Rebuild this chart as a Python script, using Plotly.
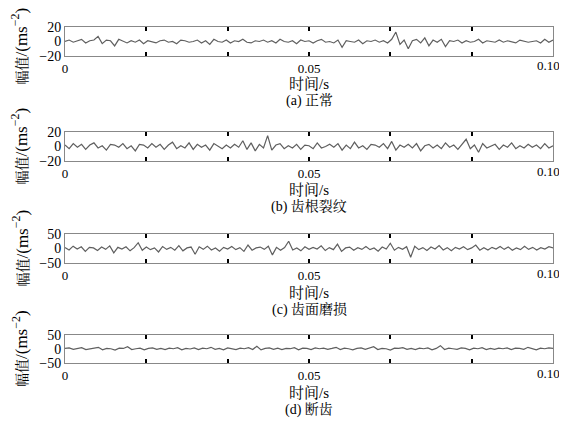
import numpy as np
import plotly.graph_objects as go

WIN_W, WIN_H = 567, 422
OFF = 8  # page body margin of the html page
W, H = WIN_W - OFF, WIN_H - OFF

sig_a = [0,2,-1,1,3,-2,1,2,7,-3,2,1,-6,3,0,-2,1,-1,2,-3,1,0,-2,1,2,-1,0,-3,2,1,-1,0,2,-2,1,-4,3,0,-1,2,-2,1,0,3,-1,-2,1,0,2,-1,1,-2,3,0,-1,1,-3,2,0,1,-2,1,3,-1,0,-2,2,-8,1,0,-1,2,-3,1,0,2,-1,1,-2,3,13,-4,2,-10,1,3,-2,5,-6,2,-1,3,-7,1,0,2,-2,1,-1,0,3,-2,1,0,-1,2,-1,1,0,-2,2,1,-1,0,1,-2,3,-1,2]
sig_b = [2,-3,4,-1,3,-4,2,5,-2,1,-5,3,2,-1,4,-3,1,-6,3,2,-2,4,-1,3,-4,2,6,-3,1,-2,5,-4,3,-1,2,-5,4,1,-3,2,-2,3,-1,8,-4,5,-6,3,-2,15,-5,2,4,-3,1,-2,3,-4,2,1,-3,5,-2,0,3,-1,4,-5,2,-3,6,-2,1,-4,3,2,-1,4,-3,7,-5,2,-1,3,-2,4,-6,1,3,-2,2,-3,5,-1,2,-4,3,10,-3,2,-8,4,-2,1,3,-4,2,-1,5,-3,1,-2,3,-1,2,-3,4,-2,1]
sig_c = [3,-5,8,-2,6,-10,4,2,-7,5,-3,9,-15,4,-2,6,-8,3,20,-6,5,-4,2,-12,7,-3,4,-6,10,-8,2,5,-20,6,-3,8,-5,2,-9,4,-2,7,-4,3,-10,12,-6,2,5,-3,8,-22,4,-6,3,25,-5,2,-8,6,-3,4,-2,9,-7,3,-4,15,-10,2,5,-6,3,-3,7,-4,2,-9,5,-2,18,-6,4,-3,6,-30,8,-4,3,-7,5,-2,10,-5,3,-8,4,-2,6,-4,2,12,-6,3,-5,4,-2,7,-3,5,-6,2,-4,8,-3,4,-5,3,-2,6,2]
sig_d = [2,4,-1,3,5,-2,1,3,6,-3,2,1,-4,3,2,8,-2,1,3,-3,2,4,-1,2,-2,3,1,5,-3,2,0,4,-2,3,1,6,-1,2,-3,4,2,-2,3,1,5,-2,10,-3,2,4,-1,3,-2,2,1,5,-3,3,2,-2,4,1,3,-1,2,6,-2,3,1,-3,2,4,-1,3,8,-2,2,1,-4,3,2,5,-1,2,-2,3,1,4,-3,2,12,-2,3,1,-1,4,2,-3,3,1,5,-2,2,-1,3,1,4,-2,3,2,-1,6,2,-3,3,1,4,2]

signals = [sig_a, sig_b, sig_c, sig_d]
y_limits = [20, 20, 50, 50]
captions = ["(a) 正常", "(b) 齿根裂纹", "(c) 齿面磨损", "(d) 断齿"]
x_tickvals = [0, 1/60, 2/60, 0.05, 4/60, 5/60, 0.1]
x_ticktext = ["0", "", "", "0.05", "", "", ""]
last_tick_label = "0.10"

# pixel boxes (top, bottom) of each panel, in window pixels
boxes = [(27, 56), (132, 161), (234, 263), (335, 363)]
xlabel_y = [84, 190, 293, 393]
caption_y = [100, 206, 309, 409]
title_shift = [5, 0, 0, 0]
x0, x1 = 65, 553

FONT = "Liberation Serif, Times New Roman, Noto Serif CJK SC, Noto Sans CJK SC, serif"


def px(x):
    return (x - OFF) / W


def py(y):
    return 1 - (y - OFF) / H


fig = go.Figure()
annotations = []
for i, s in enumerate(signals):
    t = np.linspace(0, 0.1, len(s))
    xa = "x" if i == 0 else f"x{i+1}"
    ya = "y" if i == 0 else f"y{i+1}"
    fig.add_trace(go.Scatter(x=t, y=s, mode="lines", xaxis=xa, yaxis=ya,
                             line=dict(color="#5f5f5f", width=1.2), showlegend=False))
    top, bot = boxes[i]
    lim = y_limits[i]
    xkey = "xaxis" if i == 0 else f"xaxis{i+1}"
    ykey = "yaxis" if i == 0 else f"yaxis{i+1}"
    fig.layout[xkey] = dict(domain=[px(x0), px(x1)], anchor=ya, range=[0, 0.1],
                            tickvals=x_tickvals, ticktext=x_ticktext, automargin=False,
                            ticks="inside", ticklen=4, tickwidth=2, tickcolor="black",
                            showline=True, linecolor="#888", linewidth=1, mirror="ticks",
                            showgrid=False, zeroline=False,
                            tickfont=dict(family=FONT, size=13, color="black"))
    fig.layout[ykey] = dict(domain=[py(bot), py(top)], anchor=xa,
                            range=[-lim, lim], tickvals=[-lim, 0, lim], automargin=False,
                            ticktext=["\u2212" + str(lim), "0", str(lim)],
                            ticks="", showline=True, linecolor="#888", linewidth=1,
                            mirror=True, showgrid=False, zeroline=False,
                            tickfont=dict(family=FONT, size=14, color="black"))
    # last x tick label, nudged left so it stays inside the page like the reference
    annotations.append(dict(text=last_tick_label, x=0.1, xref=xa, y=py(bot + 10),
                            yref="paper", showarrow=False, xanchor="center", xshift=-5,
                            yanchor="middle",
                            font=dict(family=FONT, size=13, color="black")))
    annotations.append(dict(text="时间/s", x=px((x0 + x1) / 2), y=py(xlabel_y[i]),
                            xref="paper", yref="paper", showarrow=False,
                            font=dict(family=FONT, size=15, color="black"),
                            xanchor="center", yanchor="middle"))
    annotations.append(dict(text=captions[i], x=px((x0 + x1) / 2), y=py(caption_y[i]),
                            xref="paper", yref="paper", showarrow=False,
                            font=dict(family=FONT, size=14, color="black"),
                            xanchor="center", yanchor="middle"))
    annotations.append(dict(text="<span style='font-size:14px'>幅值</span>/(ms<sup>\u22122</sup>)",
                            x=px(20), y=py((top + bot) / 2 + title_shift[i]),
                            xref="paper", yref="paper",
                            showarrow=False, textangle=-90,
                            font=dict(family=FONT, size=17, color="black"),
                            xanchor="center", yanchor="middle"))

fig.update_layout(width=W, height=H, margin=dict(l=0, r=0, t=0, b=0, autoexpand=False),
                  paper_bgcolor="white", plot_bgcolor="white",
                  annotations=annotations)
fig.write_html("out.html")
